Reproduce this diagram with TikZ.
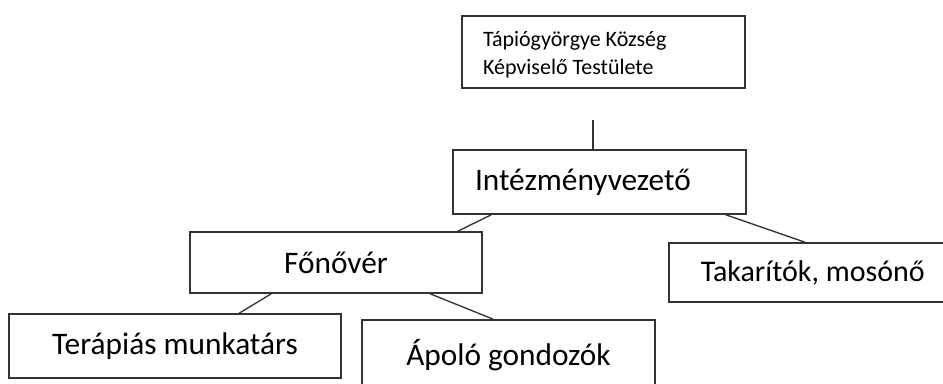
\documentclass[tikz,border=0pt]{standalone}
\usepackage{fontspec}
\setmainfont{Carlito}
\usepackage{tikz}
\usetikzlibrary{positioning, calc}

\begin{document}
\begin{tikzpicture}[
      x=0.75pt, y=-0.75pt,
      box/.style={rectangle, draw=black!80, line width=1.2pt, inner sep=0pt, font=\fontsize{23.5}{28}\selectfont},
      link/.style={draw=black!80, line width=1pt}
    ]
      \clip (0,0) rectangle (943,383);

      % Boxes
      \node[box, minimum width=212.25pt, minimum height=54pt, text width=180.75pt, align=flush left, inner xsep=15.75pt,
            text height=16pt, font=\fontsize{16.5}{21}\selectfont] (testulet) at (603.5,52) {Tápiógyörgye Község\\Képviselő Testülete};
      \node[box, minimum width=219.75pt, minimum height=48pt, text width=186.75pt, align=flush left, inner xsep=16.5pt] (vezeto) at (599.5,182) {Intézményvezető};
      \node[box, minimum width=219pt, minimum height=45.75pt] (fonover) at (336,262.5) {Főnővér};
      \node[box, anchor=west, minimum height=44.25pt, text width=196pt, align=flush left, inner xsep=24pt,
            font=\fontsize{22.5}{27}\selectfont] (takarito) at (668,272.5) {Takarítók, mosónő};
      \node[box, minimum width=249pt, minimum height=48pt] (terapia) at (175,346) {Terápiás munkatárs};
      \node[box, minimum width=219.75pt, minimum height=52.5pt] (apolo) at (508.5,355) {Ápoló gondozók};

      % Connectors
      \coordinate (stub) at (593,120);
      \draw[link] (stub) -- (stub |- vezeto.north);
      \draw[link] ($(vezeto.south west)+(39,0)$) -- ($(fonover.north east)+(-25,0)$);
      \draw[link] ($(vezeto.south east)+(-21,0)$) -- ($(takarito.north west)+(137,0)$);
      \draw[link] ($(fonover.south west)+(82,0)$) -- ($(terapia.north west)+(231,0)$);
      \draw[link] ($(fonover.south west)+(241,0)$) -- ($(apolo.north west)+(132,0)$);

    \end{tikzpicture}
\end{document}
